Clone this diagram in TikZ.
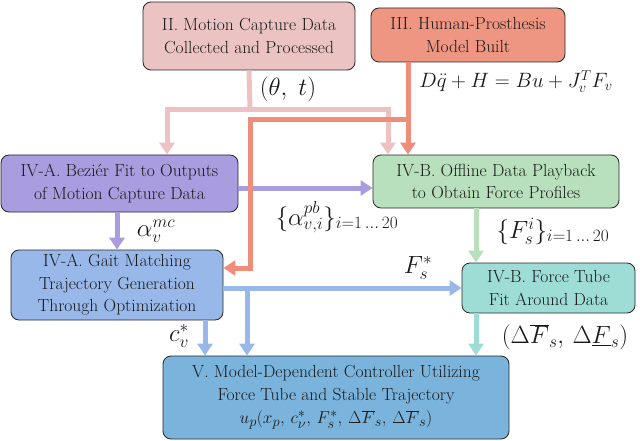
\documentclass[tikz,border=0pt]{standalone}
\usetikzlibrary{arrows.meta,calc}
\definecolor{cII}{HTML}{ECC3C3}
\definecolor{cIIline}{HTML}{EEC2C2}
\definecolor{cIII}{HTML}{EE9682}
\definecolor{cIIIline}{HTML}{EE8E7A}
\definecolor{cBez}{HTML}{A99CDF}
\definecolor{cOff}{HTML}{B8E0BC}
\definecolor{cGait}{HTML}{99B8EA}
\definecolor{cFT}{HTML}{9EDDD6}
\definecolor{cV}{HTML}{7AB4DC}
\tikzset{
  box/.style={draw=black!85, line width=0.8pt, rounded corners=8pt, align=center, inner sep=0pt, anchor=center, text=black!90},
  flow/.style={line width=5pt, -{Triangle[width=15pt,length=12pt]}},
  plain/.style={line width=5pt},
  lbl/.style={inner sep=0pt, text=black!90, font=\fontsize{26}{30}\selectfont},
}
\begin{document}
\begin{tikzpicture}[x=1pt,y=-1pt, font=\fontsize{17.5}{22.5}\selectfont]
\useasboundingbox (0,0) rectangle (640,441);
% nodes
\node[box, fill=cII, minimum width=212pt, minimum height=68pt] (II) at (249,36) {II. Motion Capture Data\\Collected and Processed};
\node[box, fill=cIII, minimum width=194pt, minimum height=54pt] (III) at (468,35) {III. Human-Prosthesis\\Model Built};
\node[box, fill=cBez, minimum width=237pt, minimum height=57pt] (Bez) at (119.5,183.5) {IV-A. Beziér Fit to Outputs\\of Motion Capture Data};
\node[box, fill=cOff, minimum width=246pt, minimum height=53pt] (Off) at (496,181.5) {IV-B. Offline Data Playback\\to Obtain Force Profiles};
\node[box, fill=cGait, minimum width=212pt, minimum height=70pt] (Gait) at (117,285) {IV-A. Gait Matching\\Trajectory Generation\\Through Optimization};
\node[box, fill=cFT, minimum width=173pt, minimum height=50pt] (FT) at (548.5,288) {IV-B. Force Tube\\Fit Around Data};
\node[box, fill=cV, minimum width=346pt, minimum height=83pt] (V) at (336,397.5) {V. Model-Dependent Controller Utilizing\\Force Tube and Stable Trajectory\\[1pt]{\fontsize{19}{22}\selectfont$u_p(x_p,\, c_\nu^*,\, F_s^*,\, \Delta\overline{F}_s,\, \Delta\overline{F}_s)$}};
% helper coordinates
\coordinate (pj) at (250,110);
\coordinate (pl) at (167,0);
\coordinate (pr) at (388,0);
\coordinate (sx) at (408,0);
\coordinate (sj) at (408,120);
\coordinate (sy) at (0,268);
\coordinate (py) at (0,188);
\coordinate (px) at (117,0);
\coordinate (by) at (0,288);
\coordinate (bj) at (247,288);
\coordinate (bx) at (205,0);
\coordinate (gx) at (476,0);
% pink (motion capture)
\draw[plain, cIIline] (II.south) -- (pj);
\draw[line width=5pt, cIIline, {Triangle[width=15pt,length=12pt]}-{Triangle[width=15pt,length=12pt]}] (Bez.north -| pl) |- (pj) -| (Off.north -| pr);
% purple
\draw[flow, cBez] (Bez.east |- py) -- (Off.west |- py);
\draw[flow, cBez] (Bez.south -| px) -- (Gait.north -| px);
% salmon
\draw[flow, cIIIline] (III.south -| sx) -- (Off.north -| sx);
\draw[flow, cIIIline] (sj) -| ($(pj)+(0,10)$) -- (pj |- sy) -- (Gait.east |- sy);
% green
\draw[flow, cOff] (Off.south -| gx) -- (FT.north -| gx);
% blue
\draw[flow, cGait] (Gait.east |- by) -- (FT.west);
\draw[flow, cGait] (bj) -- (V.north -| bj);
\draw[flow, cGait] (Gait.south -| bx) -- (V.north -| bx);
% teal
\draw[flow, cFT] (FT.south -| gx) -- (V.north -| gx);
% labels
\node[lbl] (l1) at (288,89) {$(\theta,\; t)$};
\node[lbl, font=\fontsize{19.5}{22}\selectfont] (l2) at (516,81.5) {$D\ddot{q} + H = Bu + J_v^T F_v$};
\node[lbl] (l3) at (337,217) {$\{\alpha_{v,i}^{pb}\}_{i=1\,\ldots\,20}$};
\node[lbl] (l4) at (156,231) {$\alpha_v^{mc}$};
\node[lbl] (l5) at (553,231) {$\{F_s^i\}_{i=1\,\ldots\,20}$};
\node[lbl] (l6) at (418,268) {$F_s^*$};
\node[lbl] (l7) at (179,336) {$c_v^*$};
\node[lbl] (l8) at (565,337) {$(\Delta\overline{F}_s,\, \Delta\underline{F}_s)$};
\end{tikzpicture}
\end{document}
